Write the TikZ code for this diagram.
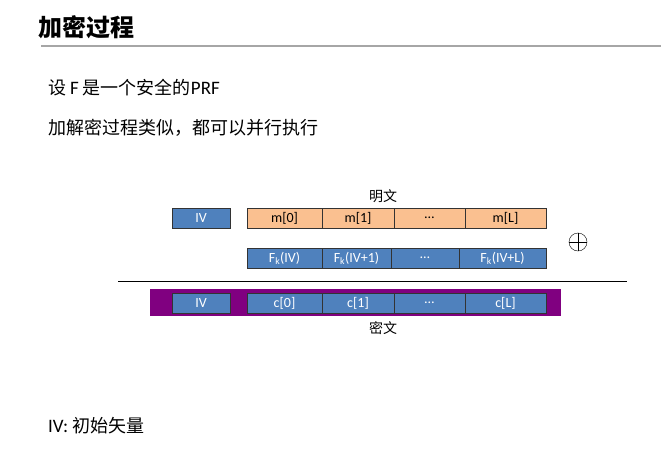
\documentclass[tikz,border=0pt]{standalone}
\usepackage{fontspec}
\setmainfont{Noto Sans CJK SC}
\newfontfamily\lat{Carlito}
\begin{document}
\begin{tikzpicture}[x=1pt,y=-1pt,
  bx/.style={draw=black!80,line width=0.6pt,minimum height=20pt,inner sep=0pt,font=\lat\fontsize{14}{16}\selectfont,text=white},
  blu/.style={bx,fill={rgb,255:red,79;green,129;blue,189}},
  org/.style={bx,fill={rgb,255:red,250;green,192;blue,144},text=black},
  txt/.style={anchor=west,inner sep=0pt,font=\fontsize{18}{20}\selectfont}]
\useasboundingbox (0,0) rectangle (661,451);
\node[anchor=west,inner sep=0pt,font=\bfseries\fontsize{24}{28}\selectfont] (title) at (38,27) {加密过程};
\draw[gray!70,line width=2pt] (41,46) coordinate (l1) -- (661,46) coordinate (l2);
\node[txt] (t1) at (48,88) {设 {\lat\fontsize{19}{20}\selectfont F} 是一个安全的{\lat\fontsize{19}{20}\selectfont PRF}};
\node[txt] (t2) at (48,128) {加解密过程类似，都可以并行执行};
\node[txt] (t3) at (48,426) {{\lat\fontsize{19}{20}\selectfont IV:} 初始矢量};
% row 1
\node[font=\fontsize{14}{16}\selectfont] (pt) at (383,196) {明文};
\node[blu,minimum width=58pt] (iv1) at (201,218) {IV};
\node[org,minimum width=75pt] (m0) at (284.5,218) {m[0]};
\node[org,minimum width=72pt] (m1) at (358,218) {m[1]};
\node[org,minimum width=71pt] (m2) at (429.5,218) {…};
\node[org,minimum width=81pt] (m3) at (505.5,218) {m[L]};
% row 2
\node[blu,minimum width=75pt] (f0) at (284.5,258) {F\textsubscript{k}(IV)};
\node[blu,minimum width=69pt] (f1) at (356.5,258) {F\textsubscript{k}(IV+1)};
\node[blu,minimum width=68pt] (f2) at (425,258) {…};
\node[blu,minimum width=87pt] (f3) at (502.5,258) {F\textsubscript{k}(IV+L)};
\node[circle,draw,inner sep=0pt,minimum size=18pt] (xo) at (578,242) {};
\draw (xo.north)--(xo.south) (xo.west)--(xo.east);
\draw[line width=0.8pt] (118,281) coordinate (a) -- (627,281) coordinate (b);
% row 3
\node[fill={rgb,255:red,128;green,0;blue,128},minimum width=411pt,minimum height=27pt,inner sep=0pt] (bg) at (355.5,302.5) {};
\node[blu,minimum width=58pt] (iv2) at (201,303) {IV};
\node[blu,minimum width=75pt] (c0) at (284.5,303) {c[0]};
\node[blu,minimum width=72pt] (c1) at (358,303) {c[1]};
\node[blu,minimum width=71pt] (c2) at (429.5,303) {…};
\node[blu,minimum width=81pt] (c3) at (505.5,303) {c[L]};
\node[font=\fontsize{14}{16}\selectfont] (ct) at (383,328) {密文};
\end{tikzpicture}
\end{document}
